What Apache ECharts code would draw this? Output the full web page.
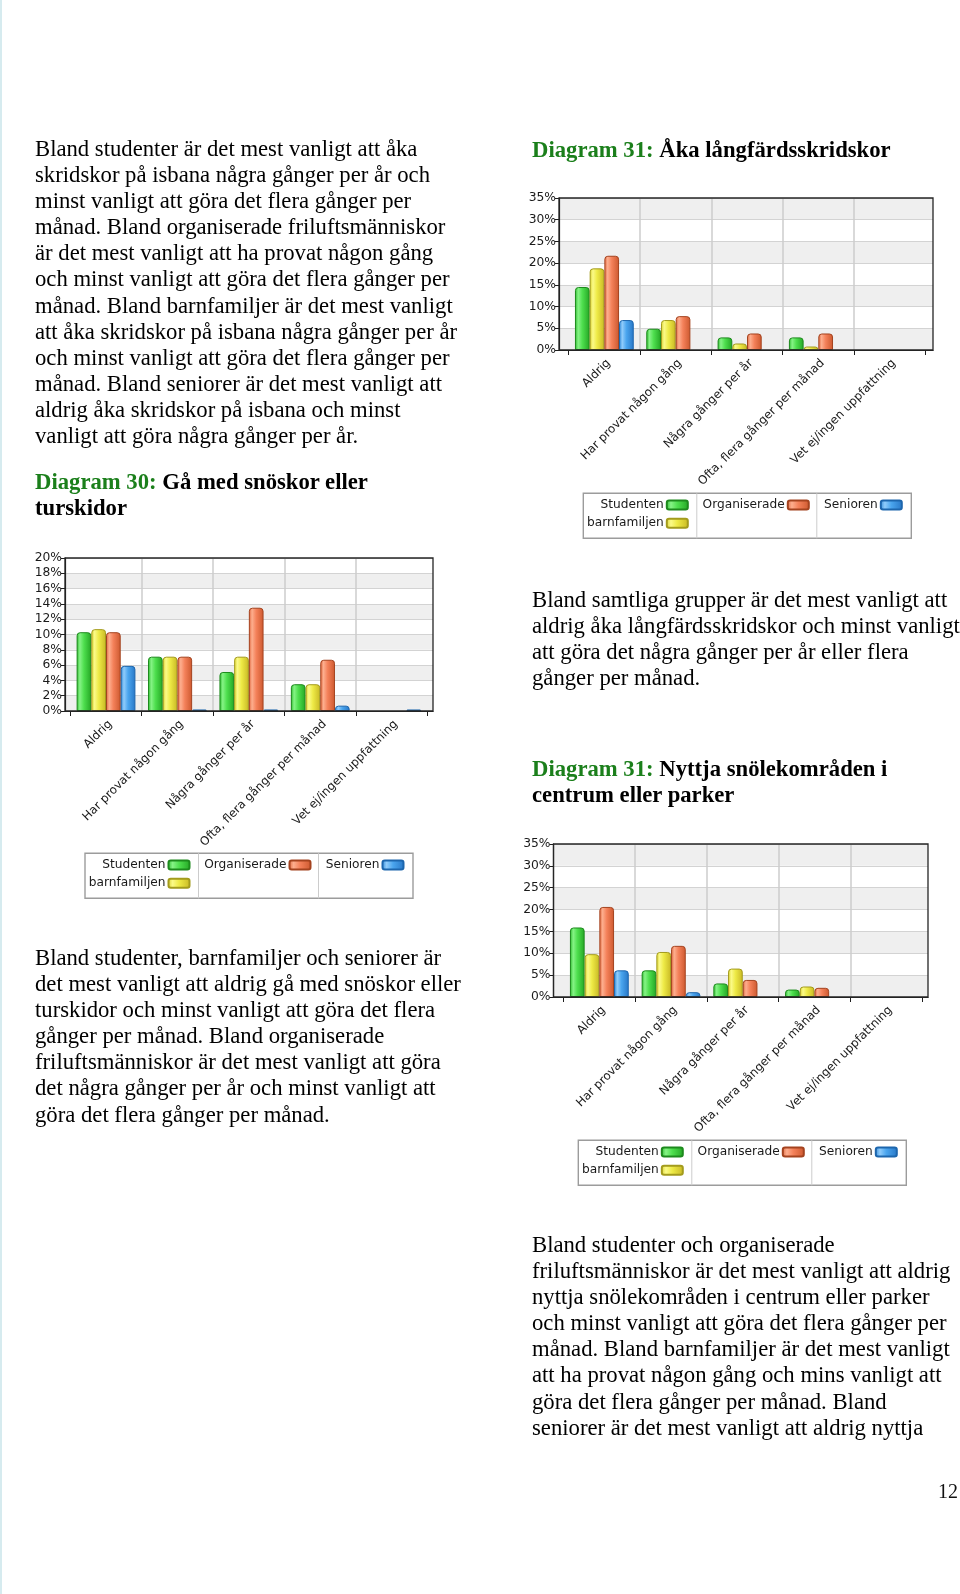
<!DOCTYPE html>
<html>
<head>
<meta charset="utf-8">
<script src="https://cdn.jsdelivr.net/npm/echarts@6/dist/echarts.min.js"></script>
<style>
html,body{margin:0;padding:0;background:#fff;}
#page{position:relative;width:960px;height:1594px;overflow:hidden;background:#fff;}
#chart{position:absolute;left:0;top:0;width:960px;height:1594px;}
.t{position:absolute;font-family:"Liberation Serif","Times New Roman",serif;font-size:22.7px;line-height:26.1px;color:#000;white-space:nowrap;z-index:2;}
.h{font-weight:bold;}
.g{color:#1b7f1b;}
#edge{position:absolute;left:0;top:0;width:2px;height:1594px;background:#d6ebef;z-index:3;}
#pn{position:absolute;right:2px;top:1479px;font-family:"Liberation Serif",serif;font-size:20px;line-height:24px;color:#111;z-index:2;}
</style>
</head>
<body>
<div id="page">
  <div id="chart"></div>
  <div id="edge"></div>

  <div class="t" style="left:35px;top:136px;">Bland studenter är det mest vanligt att åka<br>skridskor på isbana några gånger per år och<br>minst vanligt att göra det flera gånger per<br>månad. Bland organiserade friluftsmänniskor<br>är det mest vanligt att ha provat någon gång<br>och minst vanligt att göra det flera gånger per<br>månad. Bland barnfamiljer är det mest vanligt<br>att åka skridskor på isbana några gånger per år<br>och minst vanligt att göra det flera gånger per<br>månad. Bland seniorer är det mest vanligt att<br>aldrig åka skridskor på isbana och minst<br>vanligt att göra några gånger per år.</div>

  <div class="t h" style="left:532px;top:137px;"><span class="g">Diagram 31:</span> Åka långfärdsskridskor</div>

  <div class="t h" style="left:35px;top:469px;"><span class="g">Diagram 30:</span> Gå med snöskor eller<br>turskidor</div>

  <div class="t" style="left:532px;top:587px;">Bland samtliga grupper är det mest vanligt att<br>aldrig åka långfärdsskridskor och minst vanligt<br>att göra det några gånger per år eller flera<br>gånger per månad.</div>

  <div class="t h" style="left:532px;top:756px;"><span class="g">Diagram 31:</span> Nyttja snölekområden i<br>centrum eller parker</div>

  <div class="t" style="left:35px;top:945px;">Bland studenter, barnfamiljer och seniorer är<br>det mest vanligt att aldrig gå med snöskor eller<br>turskidor och minst vanligt att göra det flera<br>gånger per månad. Bland organiserade<br>friluftsmänniskor är det mest vanligt att göra<br>det några gånger per år och minst vanligt att<br>göra det flera gånger per månad.</div>

  <div class="t" style="left:532px;top:1232px;">Bland studenter och organiserade<br>friluftsmänniskor är det mest vanligt att aldrig<br>nyttja snölekområden i centrum eller parker<br>och minst vanligt att göra det flera gånger per<br>månad. Bland barnfamiljer är det mest vanligt<br>att ha provat någon gång och mins vanligt att<br>göra det flera gånger per månad. Bland<br>seniorer är det mest vanligt att aldrig nyttja</div>

  <div id="pn">12</div>
</div>
<script>
// ---------- DATA ----------
const categories = ['Aldrig', 'Har provat någon gång', 'Några gånger per år', 'Ofta, flera gånger per månad', 'Vet ej/ingen uppfattning'];
const seriesNames = ['Studenten', 'barnfamiljen', 'Organiserade', 'Senioren'];

// Diagram 31: Åka långfärdsskridskor (%)
const skridskorStudenten    = [14.5, 4.9, 2.9, 2.9, 0];
const skridskorBarnfamiljen = [18.8, 6.9, 1.5, 0.8, 0];
const skridskorOrganiserade = [21.7, 7.8, 3.8, 3.8, 0];
const skridskorSenioren     = [6.9, 0, 0, 0, 0];

// Diagram 30: Gå med snöskor eller turskidor (%)
const snoskorStudenten    = [10.3, 7.1, 5.1, 3.5, 0];
const snoskorBarnfamiljen = [10.7, 7.1, 7.1, 3.5, 0];
const snoskorOrganiserade = [10.3, 7.1, 13.5, 6.7, 0];
const snoskorSenioren     = [5.9, 0.2, 0.2, 0.7, 0.2];

// Diagram 31: Nyttja snölekområden i centrum eller parker (%)
const snolekStudenten    = [15.9, 6.1, 3.1, 1.7, 0];
const snolekBarnfamiljen = [9.8, 10.3, 6.5, 2.4, 0];
const snolekOrganiserade = [20.6, 11.7, 3.9, 2.1, 0];
const snolekSenioren     = [6.1, 1.1, 0, 0, 0];

// y-axis scales (tick labels are value + '%')
const axisMax35 = 35, axisStep35 = 5;
const axisMax20 = 20, axisStep20 = 2;

// ---------- STYLES ----------
const FONT = '"DejaVu Sans", Verdana, sans-serif';
function grad(stops){
  return {type:'linear', x:0, y:0, x2:1, y2:0,
    colorStops: stops.map(s => ({offset:s[0], color:s[1]}))};
}
const barStyles = [
  {color: grad([[0,'#28b828'],[0.22,'#86f386'],[0.5,'#4edf4e'],[1,'#24a624']]), borderColor:'#1d8a1d'},
  {color: grad([[0,'#d8d02a'],[0.22,'#fbfa88'],[0.5,'#eeea46'],[1,'#c8b824']]), borderColor:'#a39b1d'},
  {color: grad([[0,'#de653c'],[0.22,'#fdae8e'],[0.5,'#f4815a'],[1,'#cc582e']]), borderColor:'#a4431f'},
  {color: grad([[0,'#2c86d6'],[0.22,'#90ccfb'],[0.5,'#4aa5ee'],[1,'#2776c6']]), borderColor:'#1d66ad'}
];

// chart layouts (pixel geometry)
const charts = [
  {frame:{left:559, top:198, width:374, height:152}, inner:{left:568.7, width:356.6},
   max:axisMax35, step:axisStep35,
   data:[skridskorStudenten, skridskorBarnfamiljen, skridskorOrganiserade, skridskorSenioren],
   legend:{left:583.3, top:493.3}},
  {frame:{left:65, top:558, width:368, height:153}, inner:{left:70.3, width:357.1},
   max:axisMax20, step:axisStep20,
   data:[snoskorStudenten, snoskorBarnfamiljen, snoskorOrganiserade, snoskorSenioren],
   legend:{left:85, top:853.3}},
  {frame:{left:553.5, top:844, width:374.5, height:153}, inner:{left:563.5, width:358.5},
   max:axisMax35, step:axisStep35,
   data:[snolekStudenten, snolekBarnfamiljen, snolekOrganiserade, snolekSenioren],
   legend:{left:578.3, top:1140.3}}
];

const grid = [], xAxis = [], yAxis = [], series = [], legend = [], graphic = [];
const W = 960;

charts.forEach((c, k) => {
  const gF = 2*k, gD = 2*k + 1;
  const F = c.frame;
  grid.push({left:F.left, top:F.top, width:F.width, height:F.height, containLabel:false});
  grid.push({left:c.inner.left, top:F.top, width:c.inner.width, height:F.height, containLabel:false});

  // frame x axis
  xAxis.push({gridIndex:gF, type:'value', min:0, max:1, position:'bottom',
    axisLine:{show:true, lineStyle:{color:'#1e1e1e', width:1.2}}, axisTick:{show:false}, axisLabel:{show:false}, splitLine:{show:false}});
  // data category axis
  xAxis.push({gridIndex:gD, type:'category', data:categories, position:'bottom',
    axisLine:{show:false},
    axisTick:{show:true, length:5, interval:0, lineStyle:{color:'#1e1e1e'}},
    axisLabel:{show:true, interval:0, rotate:45, margin:7, verticalAlign:'top', fontFamily:FONT, fontSize:11.8, color:'#1a1a1a'},
    splitLine:{show:true, interval:0, showMinLine:false, showMaxLine:false, lineStyle:{color:'#cdcdcd', width:1.5}}});

  // frame y axis
  yAxis.push({gridIndex:gF, type:'value', min:0, max:c.max, interval:c.step, position:'left',
    axisLine:{show:true, lineStyle:{color:'#1e1e1e', width:1.2}},
    axisTick:{show:true, length:4, lineStyle:{color:'#1e1e1e'}},
    axisLabel:{show:true, formatter:'{value}%', margin:3, fontFamily:FONT, fontSize:12.3, color:'#1a1a1a'},
    splitLine:{show:true, lineStyle:{color:'#d3d3d3', width:1}},
    splitArea:{show:true, areaStyle:{color:['#efefef','#ffffff']}}});
  // data y axis
  yAxis.push({gridIndex:gD, type:'value', min:0, max:c.max, interval:c.step, show:false});

  seriesNames.forEach((name, i) => {
    series.push({
      name, type:'bar', xAxisIndex:2*k+1, yAxisIndex:2*k+1,
      data:c.data[i].map(v => (v === 0 ? null : v)), barWidth:14.7, barGap:'0%',
      itemStyle:{color:barStyles[i].color, borderColor:barStyles[i].borderColor, borderWidth:1, borderRadius:[3,3,0,0]},
      emphasis:{disabled:true}, animation:false, z:3
    });
  });

  // plot frame
  graphic.push({type:'rect', shape:{x:F.left, y:F.top, width:F.width, height:F.height},
    style:{fill:null, stroke:'#262626', lineWidth:1.3}, z:20, silent:true});

  // legend box
  const L = c.legend, BW = 328, BH = 45;
  graphic.push({type:'rect', shape:{x:L.left, y:L.top, width:BW, height:BH},
    style:{fill:'#fff', stroke:'#9c9c9c', lineWidth:1.4}, z:1});
  graphic.push({type:'line', shape:{x1:L.left+113.5, y1:L.top, x2:L.left+113.5, y2:L.top+BH}, style:{stroke:'#cccccc', lineWidth:1}, z:1});
  graphic.push({type:'line', shape:{x1:L.left+233.5, y1:L.top, x2:L.left+233.5, y2:L.top+BH}, style:{stroke:'#cccccc', lineWidth:1}, z:1});
  const items = [
    {name:'Studenten', iconRight:105.5, row:12.8},
    {name:'barnfamiljen', iconRight:105.5, row:31},
    {name:'Organiserade', iconRight:226.5, row:12.8},
    {name:'Senioren', iconRight:319.5, row:12.8}
  ];
  items.forEach(it => {
    legend.push({data:[it.name], orient:'horizontal', align:'right', selectedMode:false,
      right: W - (L.left + it.iconRight), top: L.top + it.row - 7,
      padding:0, itemGap:0, itemWidth:21, itemHeight:9, icon:'roundRect',
      textStyle:{fontFamily:FONT, fontSize:12.2, color:'#1a1a1a', padding:[0,-2,0,0]}, z:5});
  });
});

const chart = echarts.init(document.getElementById('chart'), null, {renderer:'canvas'});
chart.setOption({
  animation:false,
  backgroundColor:'transparent',
  grid, xAxis, yAxis, series, legend, graphic
});
</script>
</body>
</html>
